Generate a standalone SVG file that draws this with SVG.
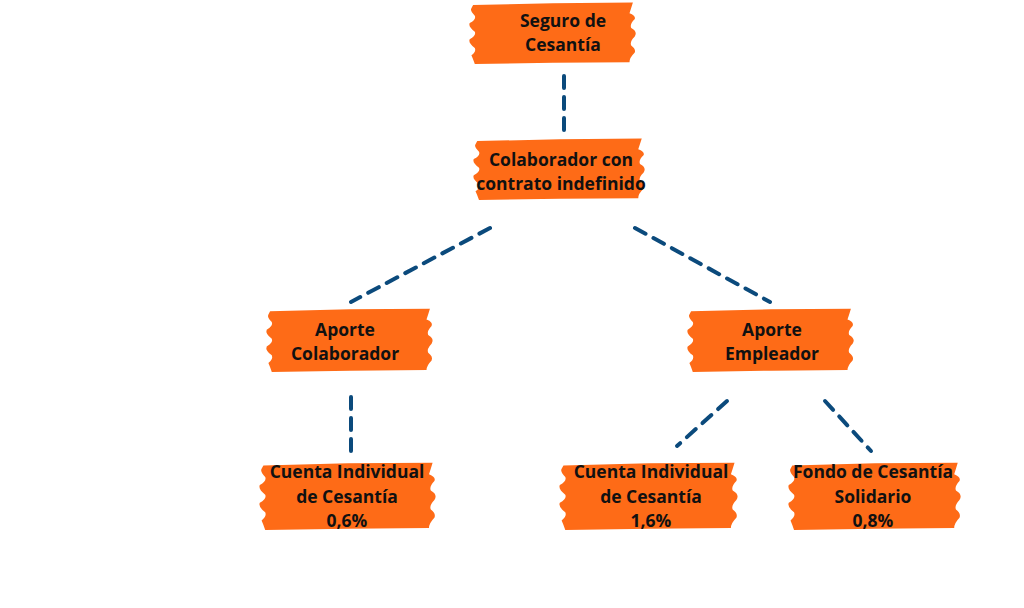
<svg xmlns="http://www.w3.org/2000/svg" width="1024" height="608" viewBox="0 0 1024 608">
<defs>
<symbol id="brush" viewBox="0 0 100 100" preserveAspectRatio="none">
<path d="M3,5 L50,2 L97,1 Q96,10 95,18 Q99,22 98,28 Q95,36 96,42 Q100,48 98,56 Q95,64 96,70 Q99,76 98,82 Q95,90 95,97 L50,98 L4,100 Q3,92 2,86 Q5,80 4,74 Q0,66 1,60 Q5,54 4,48 Q0,40 1,34 Q5,28 4,22 Q1,14 2,10 Z" fill="#FE6B17"/>
</symbol>
<style>
.t{font-family:"Open Sans","Liberation Sans",sans-serif;font-weight:700;font-size:17.5px;fill:#111;text-anchor:middle}
.c{stroke:#0B4A7C;stroke-width:4;stroke-dasharray:12 9;stroke-linecap:round;fill:none}
</style>
</defs>
<rect width="1024" height="608" fill="#fff"/>
<g id="connectors">
<line class="c" x1="564" y1="76" x2="564" y2="136"/>
<line class="c" x1="490" y1="228" x2="351" y2="302"/>
<line class="c" x1="635" y1="228" x2="770" y2="302"/>
<line class="c" x1="351" y1="397" x2="351" y2="458"/>
<line class="c" x1="727" y1="401" x2="677" y2="446"/>
<line class="c" x1="825" y1="401" x2="871" y2="451"/>
</g>
<g id="n1"><use href="#brush" x="468" y="2" width="170" height="62"/>
<text class="t" x="563" y="27">Seguro de</text><text class="t" x="563" y="51">Cesantía</text></g>
<g id="n2"><use href="#brush" x="472" y="138" width="175" height="62"/>
<text class="t" x="561" y="166">Colaborador con</text><text class="t" x="561" y="190">contrato indefinido</text></g>
<g id="n3"><use href="#brush" x="265" y="308" width="170" height="64"/>
<text class="t" x="345" y="336">Aporte</text><text class="t" x="345" y="360">Colaborador</text></g>
<g id="n4"><use href="#brush" x="686" y="308" width="170" height="64"/>
<text class="t" x="772" y="336">Aporte</text><text class="t" x="772" y="360">Empleador</text></g>
<g id="n5"><use href="#brush" x="258" y="462" width="180" height="68"/>
<text class="t" x="347" y="478">Cuenta Individual</text><text class="t" x="347" y="503">de Cesantía</text><text class="t" x="347" y="527">0,6%</text></g>
<g id="n6"><use href="#brush" x="558" y="462" width="182" height="68"/>
<text class="t" x="651" y="478">Cuenta Individual</text><text class="t" x="651" y="503">de Cesantía</text><text class="t" x="651" y="527">1,6%</text></g>
<g id="n7"><use href="#brush" x="787" y="462" width="176" height="68"/>
<text class="t" x="873" y="478">Fondo de Cesantía</text><text class="t" x="873" y="503">Solidario</text><text class="t" x="873" y="527">0,8%</text></g>
</svg>
